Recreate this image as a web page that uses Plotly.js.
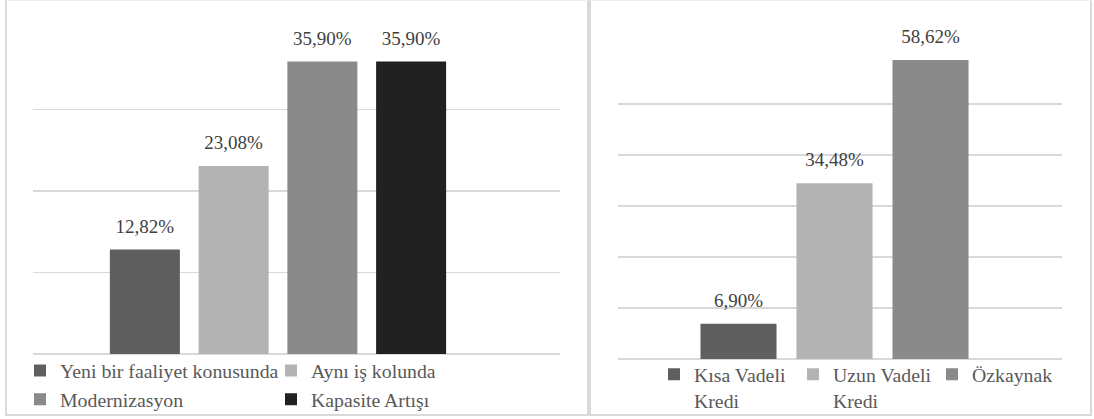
<!DOCTYPE html>
<html>
<head>
<meta charset="utf-8">
<script src="https://cdn.plot.ly/plotly-3.0.1.min.js"></script>
<style>
  html, body { margin: 0; padding: 0; background: #ffffff; width: 1094px; height: 419px; overflow: hidden; }
  .panel { position: absolute; box-sizing: border-box; border: 2px solid #d9d9d9; border-top: 1px solid #eeeeee; }
  .plot { position: absolute; top: 0; height: 419px; }
</style>
</head>
<body>
<div class="panel" style="left:5px; top:0; width:584px; height:416px;"></div>
<div class="panel" style="left:589px; top:0; width:503px; height:416px;"></div>
<div id="chart1" class="plot" style="left:0; width:589px;"></div>
<div id="chart2" class="plot" style="left:589px; width:505px;"></div>
<script>
// ---- Data: left chart ----
const leftCategory = ['Yatırım Amacı'];
const leftSeries = ['Yeni bir faaliyet konusunda', 'Aynı iş kolunda', 'Modernizasyon', 'Kapasite Artışı'];
const leftValues = [12.82, 23.08, 35.90, 35.90];
const leftColors = ['#5f5f5f', '#b3b3b3', '#8a8a8a', '#212121'];

// ---- Data: right chart ----
const rightCategory = ['Finansman Kaynağı'];
const rightSeries = ['Kısa Vadeli<br>Kredi', 'Uzun Vadeli<br>Kredi', 'Özkaynak'];
const rightValues = [6.90, 34.48, 58.62];
const rightColors = ['#5f5f5f', '#b3b3b3', '#8a8a8a'];

const FONT = 'Liberation Serif';
const labelTemplate = '<span style="font-size:19px">%{y:.2f}%</span><br>&nbsp;';

function makeTraces(cat, names, vals, colors) {
  return names.map((n, i) => ({
    type: 'bar',
    name: n,
    x: cat,
    y: [vals[i]],
    marker: { color: colors[i] },
    texttemplate: labelTemplate,
    textposition: 'outside',
    constraintext: 'none',
    cliponaxis: false,
    textfont: { family: FONT, size: 9, color: '#404040' },
    hoverinfo: 'skip'
  }));
}

function baseLayout(w, margin, xrange, yrange, legend) {
  margin.autoexpand = false;
  return {
    width: w, height: 419,
    margin: margin,
    paper_bgcolor: 'rgba(0,0,0,0)',
    plot_bgcolor: 'rgba(0,0,0,0)',
    separators: ', ',
    barmode: 'group',
    bargap: 0.2,
    font: { family: FONT, color: '#595959' },
    xaxis: { type: 'category', range: xrange, showticklabels: false, showgrid: false, zeroline: false, showline: false, ticks: '', fixedrange: true },
    yaxis: { range: yrange, dtick: 10, showticklabels: false, ticks: '', showgrid: true, gridcolor: '#d9d9d9', gridwidth: 1.3,
             zeroline: true, zerolinecolor: '#d9d9d9', zerolinewidth: 1.3, showline: false, fixedrange: true },
    showlegend: true,
    legend: legend
  };
}

const layout1 = baseLayout(589, { l: 33, r: 29, t: 28, b: 65 }, [-0.5521, 0.6355], [0, 40], {
  orientation: 'h', xref: 'container', yref: 'container', x: 0.034, y: 0.162, xanchor: 'left', yanchor: 'top',
  font: { family: FONT, size: 19.8, color: '#595959' }, entrywidth: 206, entrywidthmode: 'pixels',
  itemwidth: 30, bgcolor: 'rgba(0,0,0,0)', traceorder: 'normal', valign: 'top'
});
layout1.bargroupgap = 0.211;

const layout2 = baseLayout(505, { l: 29, r: 32, t: 53, b: 60 }, [-0.6014, 0.6319], [0, 60], {
  orientation: 'h', xref: 'container', yref: 'container', x: 0.1287, y: 0.153, xanchor: 'left', yanchor: 'top',
  font: { family: FONT, size: 19.8, color: '#595959' }, entrywidth: 94, entrywidthmode: 'pixels',
  itemwidth: 30, bgcolor: 'rgba(0,0,0,0)', traceorder: 'normal', valign: 'top'
});
layout2.bargroupgap = 0.208;

Plotly.newPlot('chart1', makeTraces(leftCategory, leftSeries, leftValues, leftColors), layout1, { displayModeBar: false, staticPlot: true });
Plotly.newPlot('chart2', makeTraces(rightCategory, rightSeries, rightValues, rightColors), layout2, { displayModeBar: false, staticPlot: true });
</script>
</body>
</html>
